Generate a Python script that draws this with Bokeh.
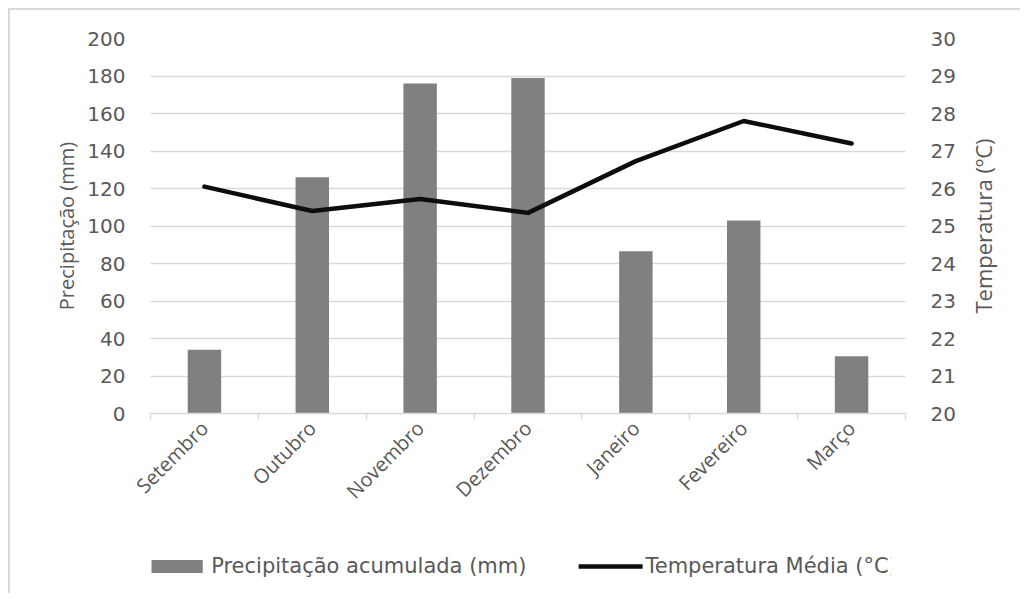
import math
from bokeh.plotting import figure
from bokeh.layouts import column, row
from bokeh.models import (Range1d, LinearAxis, FixedTicker, Legend, LegendItem, Grid,
                          ColumnDataSource, CustomJSTickFormatter)
from bokeh.core.properties import value
from bokeh.embed import file_html
from bokeh.resources import INLINE

# ---- data ----
months = ["Setembro", "Outubro", "Novembro", "Dezembro", "Janeiro", "Fevereiro", "Março"]
precip = [34, 126, 176, 179, 86.5, 103, 30.5]
temp = [26.05, 25.4, 25.72, 25.35, 26.73, 27.8, 27.2]
precip_ticks = [0, 20, 40, 60, 80, 100, 120, 140, 160, 180, 200]
temp_ticks = [20, 21, 22, 23, 24, 25, 26, 27, 28, 29, 30]
legend_labels = ["Precipitação acumulada (mm)", "Temperatura Média (°C)"]
left_title = "Precipitação (mm)"
right_title = "Temperatura (ºC)"

FONT = "Open Sans"
TICKFONT = "DejaVu Sans"
TXT = "#595959"
GRID = "#d9d9d9"
BAR = "#808080"
LINE = "#0d0d0d"

n = len(months)
centers = [i + 0.5 for i in range(n)]
bounds = list(range(n + 1))
src = ColumnDataSource(dict(x=centers, month=months, precip=precip, temp=temp))

P_W, T_W = 953, 57
yr = Range1d(0, 200)


def hide_grids(fig):
    for g in list(fig.center) + list(fig.renderers):
        if isinstance(g, Grid):
            g.visible = False
            g.grid_line_color = None


p = figure(x_range=Range1d(0, n), y_range=yr,
           width=P_W, height=513, x_axis_location=None,
           output_backend="svg", toolbar_location=None,
           min_border_left=140, min_border_right=58, min_border_top=28, min_border_bottom=110)
p.outline_line_color = None
p.xgrid.grid_line_color = None

# left axis
ya = p.yaxis[0]
ya.ticker = FixedTicker(ticks=precip_ticks)
ya.axis_label = left_title
ya.axis_line_color = None
ya.major_tick_line_color = None
ya.minor_tick_line_color = None
ya.major_label_standoff = 19
ya.axis_label_standoff = 4
ya.major_label_text_font = TICKFONT
ya.major_label_text_font_size = "20px"
ya.major_label_text_color = TXT
ya.axis_label_text_font = FONT
ya.axis_label_text_font_size = "20px"
ya.axis_label_text_font_style = "normal"
ya.axis_label_text_color = TXT
p.ygrid.ticker = FixedTicker(ticks=precip_ticks)
p.ygrid.grid_line_color = GRID
p.ygrid.grid_line_width = 1.5

# right axis (title drawn in a narrow strip to its right, reading bottom-to-top)
p.extra_y_ranges = {"temp": Range1d(20, 30)}
ra = LinearAxis(y_range_name="temp", ticker=FixedTicker(ticks=temp_ticks))
ra.axis_line_color = None
ra.major_tick_line_color = None
ra.minor_tick_line_color = None
ra.major_label_standoff = 19
ra.major_label_text_font = TICKFONT
ra.major_label_text_font_size = "20px"
ra.major_label_text_color = TXT
p.add_layout(ra, "right")

# bottom axis: labels at centers, boundary ticks as minor ticks
xa = LinearAxis(ticker=FixedTicker(ticks=centers, minor_ticks=bounds),
                formatter=CustomJSTickFormatter(args=dict(months=months),
                                                code="return months[Math.floor(tick)];"))
xa.axis_line_color = GRID
xa.axis_line_width = 1.5
xa.major_tick_line_color = None
xa.minor_tick_line_color = GRID
xa.minor_tick_line_width = 1.5
xa.minor_tick_in = 0
xa.minor_tick_out = 6
xa.major_tick_out = 6
xa.major_tick_in = 0
xa.major_label_orientation = math.pi / 4
xa.major_label_standoff = 5
xa.major_label_text_font = FONT
xa.major_label_text_font_size = "20px"
xa.major_label_text_color = TXT
p.add_layout(xa, "below")

p.vbar(x="x", top="precip", width=0.31, source=src, fill_color=BAR, line_color=None)
p.line(x="x", y="temp", source=src, y_range_name="temp",
       line_color=LINE, line_width=4.5, line_cap="round", line_join="round")

# right title strip, sharing the plot's vertical range and borders
p3 = figure(x_range=Range1d(0, 1), y_range=yr, width=T_W, height=513,
            x_axis_location=None, y_axis_location=None,
            output_backend="svg", toolbar_location=None,
            min_border_left=0, min_border_right=0, min_border_top=28, min_border_bottom=110)
p3.outline_line_color = None
hide_grids(p3)
p3.text(x=[0.35], y=[(yr.start + yr.end) / 2], text=[right_title], angle=math.pi / 2,
        text_align="center", text_baseline="middle", text_font=value(FONT),
        text_font_size="22px", text_color=TXT)

# legend strip underneath
L_W = P_W + T_W
p2 = figure(x_range=Range1d(0, 1), y_range=Range1d(0, 1), width=L_W, height=70,
            x_axis_location=None, y_axis_location=None,
            output_backend="svg", toolbar_location=None,
            min_border_left=140, min_border_right=L_W - 140 - 755 + 14,
            min_border_top=16, min_border_bottom=0)
p2.outline_line_color = None
hide_grids(p2)
# legend swatch renderers (kept outside the visible range)
lb = p2.vbar(x=[-5], top=[-4], bottom=[-5], width=0.3, fill_color=BAR, line_color=None)
ll = p2.line(x=[-5, -4], y=[-5, -5], line_color=LINE, line_width=4.5, line_cap="round")
legend = Legend(items=[LegendItem(label=legend_labels[0], renderers=[lb]),
                       LegendItem(label=legend_labels[1], renderers=[ll])],
                orientation="horizontal", location="center")
legend.border_line_color = None
legend.background_fill_alpha = 0
legend.glyph_width = 64
legend.glyph_height = 16
legend.label_standoff = 3
legend.spacing = 52
legend.padding = 0
legend.margin = 0
legend.label_text_font = TICKFONT
legend.label_text_font_size = "21px"
legend.label_text_color = TXT
p2.add_layout(legend, "center")

layout = column(row(p, p3, spacing=0), p2, spacing=0)
layout.styles = {"margin-left": "8px", "margin-top": "8px",
                 "border-left": "2px solid #d9d9d9", "border-top": "2px solid #d9d9d9"}

open("out.html", "w").write(file_html(layout, INLINE))
